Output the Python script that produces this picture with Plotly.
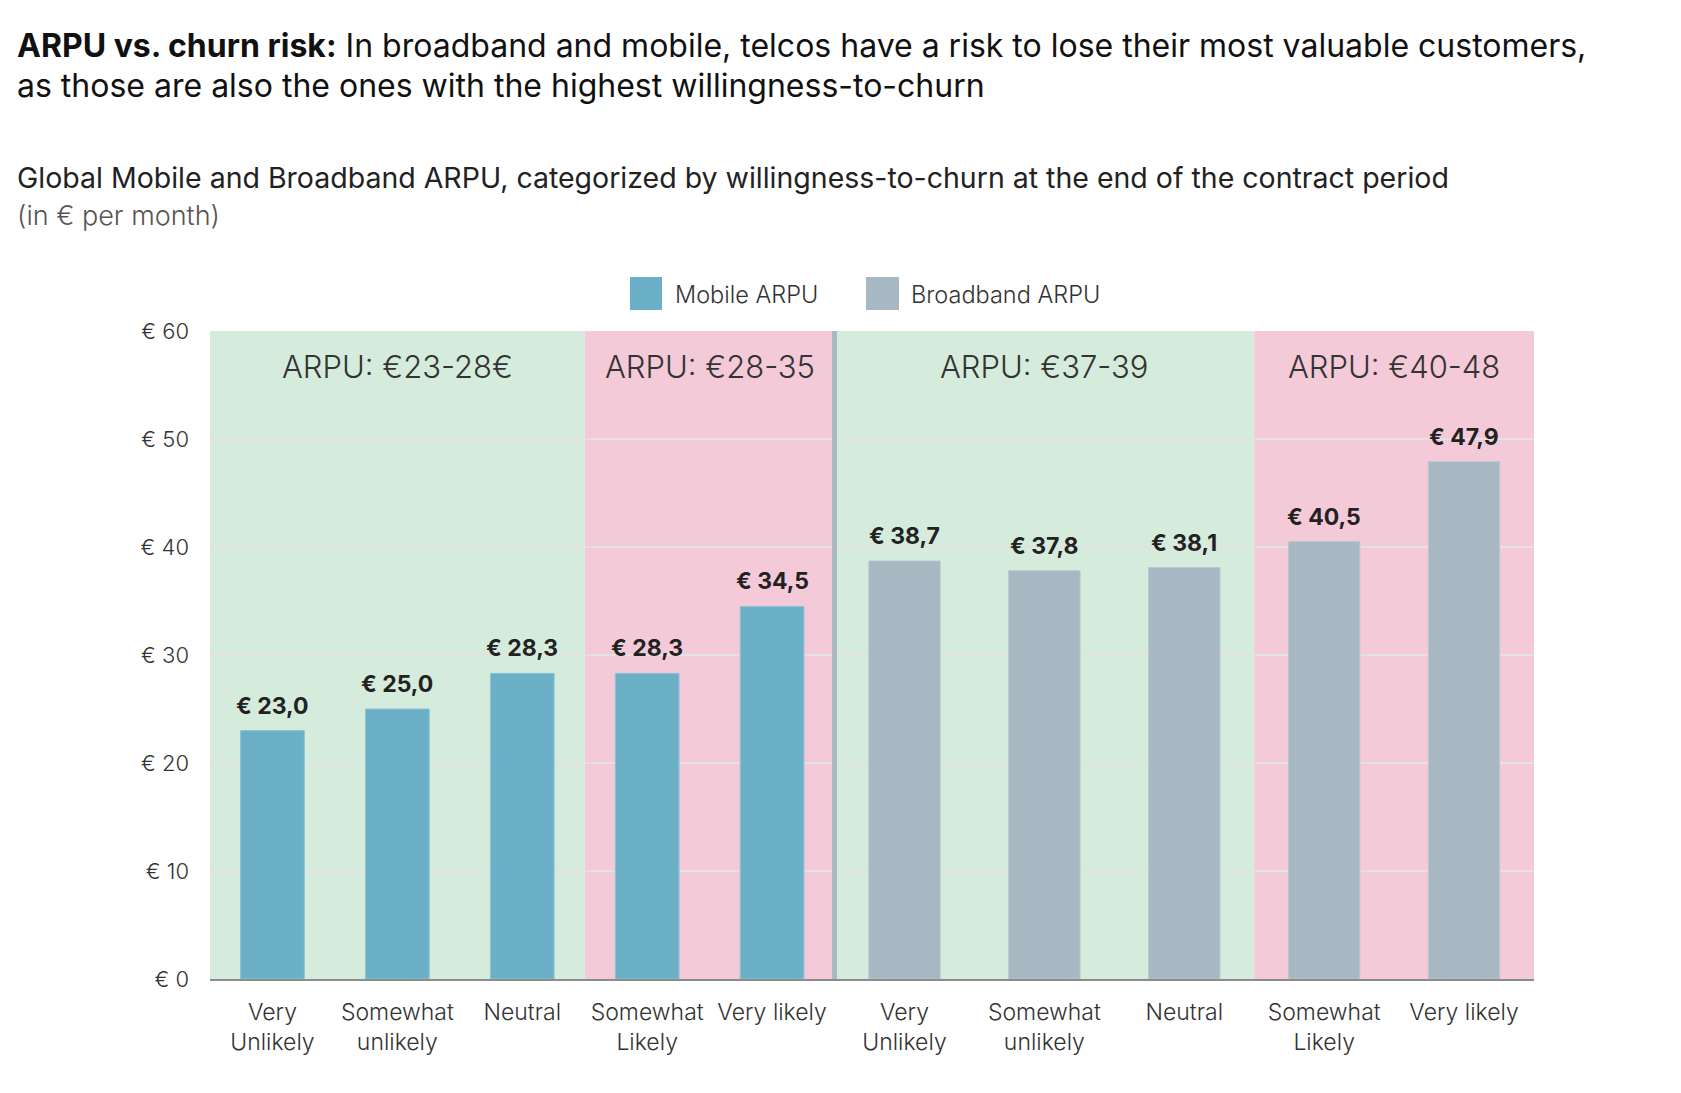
import plotly.graph_objects as go

# ---------------- data ----------------
categories = ["Very<br>Unlikely", "Somewhat<br>unlikely", "Neutral",
              "Somewhat<br>Likely", "Very likely"]
mobile_arpu = [23.0, 25.0, 28.3, 28.3, 34.5]
broadband_arpu = [38.7, 37.8, 38.1, 40.5, 47.9]

y_ticks = [0, 10, 20, 30, 40, 50, 60]
y_ticktext = [f"€ {v}" for v in y_ticks]

# bands: (axis, first category, last category, label, kind)
bands = [
    ("x", 0, 2, "ARPU: €23-28€", "low"),
    ("x", 3, 4, "ARPU: €28-35", "high"),
    ("x2", 0, 2, "ARPU: €37-39", "low"),
    ("x2", 3, 4, "ARPU: €40-48", "high"),
]

title_line1 = ("<b>ARPU vs. churn risk:</b> In broadband and mobile, telcos have a risk "
               "to lose their most valuable customers,")
title_line2 = "as those are also the ones with the highest willingness-to-churn"
subtitle = "Global Mobile and Broadband ARPU, categorized by willingness-to-churn at the end of the contract period"
unit_note = "(in € per month)"

# ---------------- style ----------------
FONT = "Inter"
MOBILE_C = "#6cb0c7"
BROADBAND_C = "#a8b8c2"
BAND_C = {"low": "#d5ecdc", "high": "#f4cad8"}
TXT = "#222222"

W_PX, H_PX = 1681, 1093
PAGE_OFF = 8  # body margin of the html page
L, R, T, B = 202, 155, 323, 122
PW = W_PX - L - R
PH = H_PX - T - B
SPLIT = 125 * 5 / (125 * 5 + 140 * 5)  # mobile takes narrower domain


def px_x(px):
    return (px - PAGE_OFF - L) / PW


def px_y(py):
    return (H_PX - B - (py - PAGE_OFF)) / PH


def euro(v):
    return f"€ {v:.1f}".replace(".", ",")


fig = go.Figure()
fig.add_trace(go.Bar(x=categories, y=mobile_arpu, name="Mobile ARPU",
                     marker=dict(color=MOBILE_C, line=dict(width=1, color="#8cc4d6")),
                     xaxis="x", yaxis="y", hoverinfo="skip"))
fig.add_trace(go.Bar(x=categories, y=broadband_arpu, name="Broadband ARPU",
                     marker=dict(color=BROADBAND_C, line=dict(width=1, color="#b9c7cf")),
                     xaxis="x2", yaxis="y2", hoverinfo="skip"))

shapes = []
annotations = []

# background bands + band labels
for ax, i0, i1, label, kind in bands:
    yref = "y" if ax == "x" else "y2"
    shapes.append(dict(type="rect", xref=ax, yref=yref, x0=i0 - 0.5, x1=i1 + 0.5,
                       y0=0, y1=60, fillcolor=BAND_C[kind], line=dict(width=0),
                       layer="below"))
    annotations.append(dict(xref=ax, yref=yref, x=(i0 + i1) / 2, y=56.7, text=label,
                            showarrow=False,
                            font=dict(size=31, color="#333333", family=FONT, weight=300),
                            xanchor="center", yanchor="middle"))

# value labels
for ax, vals in (("x", mobile_arpu), ("x2", broadband_arpu)):
    yref = "y" if ax == "x" else "y2"
    for i, v in enumerate(vals):
        annotations.append(dict(xref=ax, yref=yref, x=i, y=v, text=f"<b>{euro(v)}</b>",
                                showarrow=False, yanchor="bottom", yshift=9,
                                font=dict(size=23, color=TXT, family=FONT)))

# divider between mobile and broadband
shapes.append(dict(type="line", xref="paper", yref="y", x0=SPLIT, x1=SPLIT, y0=0, y1=60,
                   line=dict(color="#a8b8c4", width=5), layer="above"))

# legend (manual, big swatches)
for x0, x1, color, name, tx in ((630, 662, MOBILE_C, "Mobile ARPU", 673),
                                (866, 899, BROADBAND_C, "Broadband ARPU", 909)):
    shapes.append(dict(type="rect", xref="paper", yref="paper",
                       x0=px_x(x0), x1=px_x(x1), y0=px_y(310), y1=px_y(277),
                       fillcolor=color, line=dict(width=0)))
    annotations.append(dict(xref="paper", yref="paper", x=px_x(tx), y=px_y(294),
                            text=name, showarrow=False, xanchor="left", yanchor="middle",
                            font=dict(size=23.5, color="#333333", family=FONT, weight=300)))

# titles
for text, ypx in ((title_line1, 45), (title_line2, 85)):
    annotations.append(dict(xref="paper", yref="paper", x=px_x(15), y=px_y(ypx),
                            text=text, showarrow=False, xanchor="left", yanchor="middle",
                            font=dict(size=32, color="#111111", family=FONT)))
annotations.append(dict(xref="paper", yref="paper", x=px_x(15), y=px_y(178),
                        text=subtitle, showarrow=False, xanchor="left", yanchor="middle",
                        font=dict(size=28.5, color="#222222", family=FONT)))
annotations.append(dict(xref="paper", yref="paper", x=px_x(15), y=px_y(215),
                        text=unit_note, showarrow=False, xanchor="left", yanchor="middle",
                        font=dict(size=27, color="#555555", family=FONT, weight=300)))

xaxis_style = dict(type="category", showgrid=False, showline=True, linecolor="#8c8c8c",
                   linewidth=2, ticks="",
                   tickfont=dict(size=23, color="#333333", family=FONT, weight=300),
                   ticklabelstandoff=11, fixedrange=True)
yaxis_style = dict(range=[0, 60], tickvals=y_ticks, ticktext=y_ticktext, showgrid=True,
                   gridcolor="#e2e2e2", gridwidth=2, zeroline=False, showline=False,
                   fixedrange=True)

fig.update_layout(
    width=W_PX, height=H_PX,
    margin=dict(l=L, r=R, t=T, b=B),
    paper_bgcolor="white", plot_bgcolor="white",
    showlegend=False, bargap=0.49,
    font=dict(family=FONT, color="#333333"),
    xaxis=dict(domain=[0, SPLIT], **xaxis_style),
    xaxis2=dict(domain=[SPLIT, 1], anchor="y2", **xaxis_style),
    yaxis=dict(tickfont=dict(size=22, color="#333333", family=FONT, weight=300),
               ticklabelstandoff=20, **yaxis_style),
    yaxis2=dict(anchor="x2", showticklabels=False, **yaxis_style),
    shapes=shapes, annotations=annotations,
)

fig.write_html("out.html")
